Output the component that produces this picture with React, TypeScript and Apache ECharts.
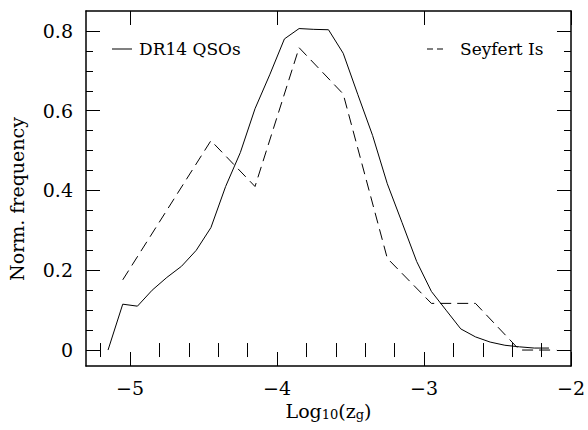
import React, { useEffect, useRef } from "react";
import * as echarts from "echarts";

// DR14 QSOs (solid line)
const qsoX = [-5.15, -5.05, -4.95, -4.85, -4.75, -4.65, -4.55, -4.45, -4.35, -4.25, -4.15, -4.05, -3.95, -3.85, -3.75, -3.65, -3.55, -3.45, -3.35, -3.25, -3.15, -3.05, -2.95, -2.85, -2.75, -2.65, -2.55, -2.45, -2.35, -2.25, -2.15];
const qsoY = [0.0, 0.115, 0.11, 0.15, 0.182, 0.21, 0.25, 0.307, 0.41, 0.495, 0.605, 0.69, 0.78, 0.806, 0.804, 0.803, 0.744, 0.64, 0.538, 0.417, 0.32, 0.222, 0.147, 0.1, 0.053, 0.033, 0.02, 0.012, 0.008, 0.005, 0.005];

// Seyfert Is (dashed line)
const syfX = [-5.05, -4.45, -4.15, -3.85, -3.55, -3.25, -2.95, -2.65, -2.35, -2.1];
const syfY = [0.176, 0.525, 0.41, 0.758, 0.642, 0.23, 0.117, 0.117, 0.0, 0.0];

const xMajor = [-5, -4, -3, -2];
const xMinor = [-5.2, -4.8, -4.6, -4.4, -4.2, -3.8, -3.6, -3.4, -3.2, -2.8, -2.6, -2.4, -2.2];
const yMajor = [0, 0.2, 0.4, 0.6, 0.8];
const yMinor = [0.05, 0.1, 0.15, 0.25, 0.3, 0.35, 0.45, 0.5, 0.55, 0.65, 0.7, 0.75];

const X_MIN = -5.3;
const X_MAX = -2;
const Y_MIN = -0.04;
const Y_MAX = 0.85;

const FONT = "DejaVu Serif";
const MAJOR_LEN = 14;
const MINOR_LEN = 7;

export default function App() {
  const ref = useRef<HTMLDivElement>(null);
  useEffect(() => {
    if (!ref.current) return;
    const chart = echarts.init(ref.current, null, { renderer: "svg" });

    const frameAxis = {
      type: "value",
      splitLine: { show: false },
      axisLine: { show: true, onZero: false, lineStyle: { color: "#000", width: 1.5 } },
    };
    const majorTick = (vals: number[]) => ({
      show: true,
      inside: true,
      length: MAJOR_LEN,
      customValues: vals,
      lineStyle: { color: "#000", width: 1 },
    });
    const minorTick = (vals: number[]) => ({
      show: true,
      inside: true,
      length: MINOR_LEN,
      customValues: vals,
      lineStyle: { color: "#000", width: 1 },
    });

    chart.setOption({
      animation: false,
      backgroundColor: "#fff",
      grid: { left: 86, right: 16.4, top: 11, bottom: 64, containLabel: false },
      xAxis: [
        {
          ...frameAxis,
          position: "bottom",
          min: X_MIN,
          max: X_MAX,
          axisTick: majorTick(xMajor),
          axisLabel: {
            show: true,
            customValues: xMajor,
            margin: 12,
            color: "#000",
            fontFamily: FONT,
            fontSize: 19,
            formatter: (v: number) => String(v).replace("-", "\u2212"),
          },
          name: "{a|Log}{s|10}{a|(z}{s|g}{a|)}",
          nameLocation: "middle",
          nameGap: 32,
          nameTextStyle: {
            rich: {
              a: { fontFamily: FONT, fontSize: 19, color: "#000", lineHeight: 22, verticalAlign: "bottom" },
              s: { fontFamily: FONT, fontSize: 13, color: "#000", lineHeight: 4, verticalAlign: "bottom" },
            },
          },
        },
        { ...frameAxis, position: "bottom", min: X_MIN, max: X_MAX, axisLine: { show: false }, axisTick: minorTick(xMinor), axisLabel: { show: false } },
        { ...frameAxis, position: "top", min: X_MIN, max: X_MAX, axisTick: majorTick(xMajor), axisLabel: { show: false } },
        { ...frameAxis, position: "top", min: X_MIN, max: X_MAX, axisLine: { show: false }, axisTick: minorTick(xMinor), axisLabel: { show: false } },
      ],
      yAxis: [
        {
          ...frameAxis,
          position: "left",
          min: Y_MIN,
          max: Y_MAX,
          axisTick: majorTick(yMajor),
          axisLabel: {
            show: true,
            customValues: yMajor,
            margin: 13,
            color: "#000",
            fontFamily: FONT,
            fontSize: 19,
            formatter: (v: number) => (v === 0 ? "0" : v.toFixed(1)),
          },
        },
        { ...frameAxis, position: "left", min: Y_MIN, max: Y_MAX, axisLine: { show: false }, axisTick: minorTick(yMinor), axisLabel: { show: false } },
        { ...frameAxis, position: "right", min: Y_MIN, max: Y_MAX, axisTick: majorTick(yMajor), axisLabel: { show: false } },
        { ...frameAxis, position: "right", min: Y_MIN, max: Y_MAX, axisLine: { show: false }, axisTick: minorTick(yMinor), axisLabel: { show: false } },
      ],
      series: [
        {
          name: "DR14 QSOs",
          type: "line",
          xAxisIndex: 0,
          yAxisIndex: 0,
          showSymbol: false,
          symbol: "none",
          data: qsoX.map((x, i) => [x, qsoY[i]]),
          lineStyle: { color: "#000", width: 1 },
        },
        {
          name: "Seyfert Is",
          type: "line",
          xAxisIndex: 0,
          yAxisIndex: 0,
          showSymbol: false,
          symbol: "none",
          data: syfX.map((x, i) => [x, syfY[i]]),
          lineStyle: { color: "#000", width: 1, type: [11, 6] },
        },
      ],
      graphic: [
        {
          type: "text",
          x: 17,
          y: 199,
          rotation: Math.PI / 2,
          style: { text: "Norm. frequency", fontFamily: FONT, fontSize: 19, fill: "#000", align: "center", verticalAlign: "middle" },
        },
        { type: "rect", shape: { x: 112, y: 48.5, width: 20, height: 1 }, style: { fill: "#000" } },
        {
          type: "text",
          x: 139,
          y: 49,
          style: { text: "DR14 QSOs", fontFamily: FONT, fontSize: 17, fill: "#000", verticalAlign: "middle", align: "left" },
        },
        { type: "rect", shape: { x: 427, y: 48.5, width: 6, height: 1 }, style: { fill: "#000" } },
        { type: "rect", shape: { x: 437, y: 48.5, width: 6, height: 1 }, style: { fill: "#000" } },
        {
          type: "text",
          x: 460,
          y: 49,
          style: { text: "Seyfert Is", fontFamily: FONT, fontSize: 17, fill: "#000", verticalAlign: "middle", align: "left" },
        },
      ],
    });

    return () => chart.dispose();
  }, []);
  return (
    <div
      ref={ref}
      style={{ position: "absolute", left: 0, top: 0, width: 588, height: 430, background: "#fff" }}
    />
  );
}
